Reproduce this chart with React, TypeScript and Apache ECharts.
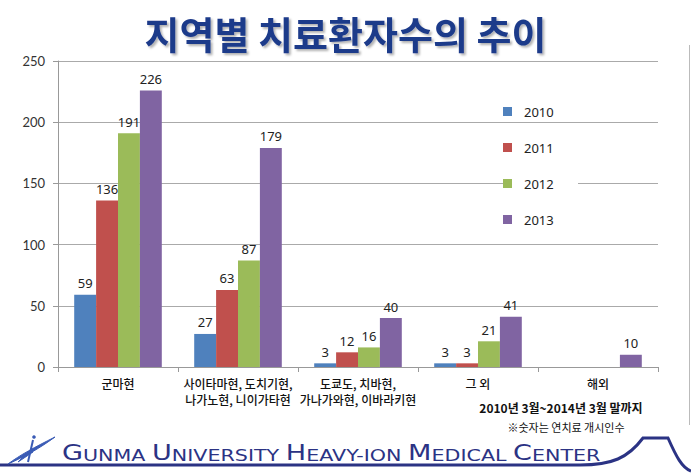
import React, { useEffect, useRef } from "react";
import * as echarts from "echarts";

const categories = [
  "군마현",
  "사이타마현, 도치기현,\n나가노현, 니이가타현",
  "도쿄도, 치바현,\n가나가와현, 이바라키현",
  "그 외",
  "해외",
];
const years = ["2010", "2011", "2012", "2013"];
const v2010: (number | null)[] = [59, 27, 3, 3, null];
const v2011: (number | null)[] = [136, 63, 12, 3, null];
const v2012: (number | null)[] = [191, 87, 16, 21, null];
const v2013: (number | null)[] = [226, 179, 40, 41, 10];
const colors = ["#4F81BD", "#C0504D", "#9BBB59", "#8064A2"];
const yTicks = [0, 50, 100, 150, 200, 250];

const NAVY = "#2B3384";

export default function App() {
  const ref = useRef<HTMLDivElement>(null);
  useEffect(() => {
    document.body.style.margin = "0";
    if (!ref.current) return;
    echarts.graphic.registerShape(
      "bumpline",
      echarts.graphic.extendPath(
        "M0,465 L580,465 C612,465 628,458 643,438 L668,438 C676,456 682,468 691,471",
        {}
      ) as any
    );
    echarts.graphic.registerShape(
      "logoswoosh",
      echarts.graphic.extendPath(
        "M8,464 C20,455 35,447 55,437 C40,448 26,456 8,464 Z M18,462 L30,450 L33,452 Z",
        {}
      ) as any
    );
    const chart = echarts.init(ref.current, null, { renderer: "svg" });
    const all = [v2010, v2011, v2012, v2013];
    const series = years.map((y, i) => ({
      name: y,
      type: "bar",
      data: all[i],
      barGap: "0%",
      barCategoryGap: "27%",
      itemStyle: { color: colors[i] },
      label: {
        show: true,
        position: "top",
        distance: 5,
        fontSize: 13,
        color: "#222",
        fontFamily: "Noto Sans",
      },
    }));
    chart.setOption({
      animation: false,
      backgroundColor: "#fff",
      title: {
        text: "지역별 치료환자수의 추이",
        left: "center",
        top: 8,
        textStyle: {
          fontSize: 38,
          fontWeight: "bold",
          color: "#1D3A8A",
          fontFamily: "Noto Sans CJK KR",
          textShadowColor: "rgba(0,0,0,0.3)",
          textShadowBlur: 2,
          textShadowOffsetX: 2,
          textShadowOffsetY: 2,
        },
      },
      legend: {
        orient: "vertical",
        left: 498,
        top: 100,
        itemWidth: 9,
        itemHeight: 9,
        itemGap: 23,
        icon: "rect",
        data: years,
        textStyle: {
          fontSize: 13,
          color: "#222",
          fontFamily: "Noto Sans",
          padding: [0, 0, 0, 7],
        },
      },
      grid: { left: 58, right: 33, top: 61, bottom: 107, containLabel: false },
      xAxis: {
        type: "category",
        data: categories,
        axisLine: { lineStyle: { color: "#999" } },
        axisTick: { show: true, length: 5, lineStyle: { color: "#999" } },
        axisLabel: {
          fontSize: 12,
          fontWeight: 500,
          color: "#111",
          fontFamily: "Noto Sans CJK KR",
          lineHeight: 16,
          margin: 8,
          interval: 0,
        },
      },
      yAxis: {
        type: "value",
        min: 0,
        max: 250,
        interval: 50,
        axisLine: { show: true, lineStyle: { color: "#999" } },
        axisTick: { show: true, length: 5, lineStyle: { color: "#999" } },
        splitLine: { lineStyle: { color: "#aaa" } },
        axisLabel: {
          fontSize: 13,
          color: "#333",
          fontFamily: "Lato",
          margin: 13,
          formatter: (v: number) => (yTicks.includes(v) ? String(v) : ""),
        },
      },
      series,
      graphic: [
        {
          type: "rect",
          z: 1,
          shape: { x: 510, y: 140, width: 68, height: 95 },
          style: { fill: "#fff" },
        },
        {
          type: "line",
          shape: { x1: 689.5, y1: 45, x2: 689.5, y2: 425 },
          style: { stroke: "#bbb", lineWidth: 1 },
        },
        {
          type: "text",
          x: 561,
          y: 407,
          style: {
            text: "2010년 3월~2014년 3월 말까지",
            fontSize: 12,
            fontWeight: "bold",
            fill: "#111",
            fontFamily: "Noto Sans CJK KR",
            align: "center",
            verticalAlign: "middle",
          },
        },
        {
          type: "text",
          x: 566,
          y: 427,
          style: {
            text: "※숫자는 연치료 개시인수",
            fontSize: 11,
            fill: "#111",
            fontFamily: "Noto Sans CJK KR",
            align: "center",
            verticalAlign: "middle",
          },
        },
        {
          type: "text",
          x: 62,
          y: 453,
          scaleX: 1.29,
          style: {
            text:
              "{c|G}{s|UNMA }{c|U}{s|NIVERSITY }{c|H}{s|EAVY-ION }{c|M}{s|EDICAL }{c|C}{s|ENTER}",
            verticalAlign: "middle",
            rich: {
              c: { fontSize: 21, fill: NAVY, fontFamily: "DejaVu Sans", verticalAlign: "bottom" },
              s: { fontSize: 16, fill: NAVY, fontFamily: "DejaVu Sans", verticalAlign: "bottom" },
            },
          },
        },
        {
          type: "bumpline",
          style: { stroke: NAVY, lineWidth: 3, fill: null },
        },
        {
          type: "logoswoosh",
          style: { fill: "#3A5BB5", stroke: "#3A5BB5", lineWidth: 1 },
        },
        {
          type: "line",
          shape: { x1: 28, y1: 462, x2: 33, y2: 440 },
          style: { stroke: "#3A5BB5", lineWidth: 2 },
        },
        {
          type: "circle",
          shape: { cx: 34, cy: 437, r: 1.8 },
          style: { fill: "#3A5BB5" },
        },
      ],
    });
    return () => chart.dispose();
  }, []);
  return <div ref={ref} style={{ width: 691, height: 474 }} />;
}
